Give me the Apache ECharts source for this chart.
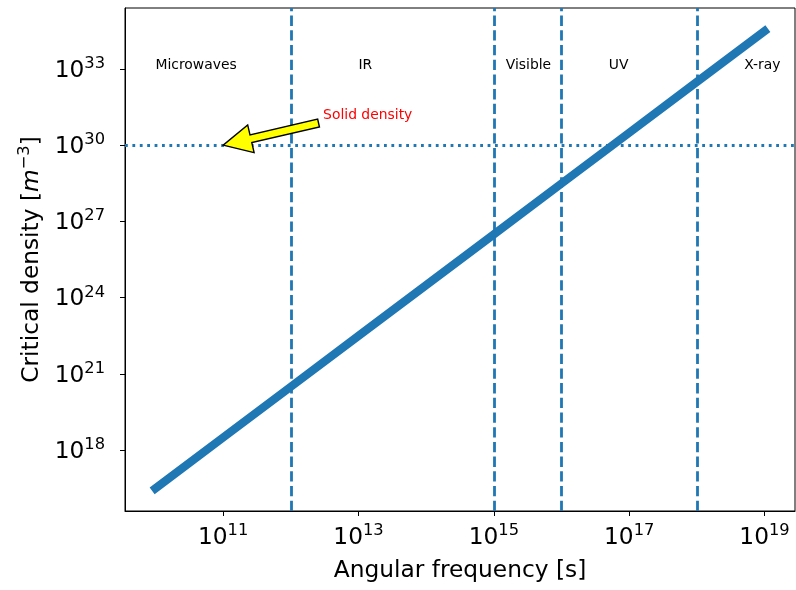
<!DOCTYPE html>
<html>
<head>
<meta charset="utf-8">
<script src="https://cdn.jsdelivr.net/npm/echarts@6/dist/echarts.min.js"></script>
<style>
html,body{margin:0;padding:0;background:#fff;}
#chart{width:796px;height:590px;}
</style>
</head>
<body>
<div id="chart"></div>
<script>
// ---- data ----
const frequencies = [1e10, 1e11, 1e12, 1e13, 1e14, 1e15, 1e16, 1e17, 1e18, 1e19];
const criticalDensity = [3.1e16, 3.1e18, 3.1e20, 3.1e22, 3.1e24, 3.1e26, 3.1e28, 3.1e30, 3.1e32, 3.1e34];
const bandEdges = [1e12, 1e15, 1e16, 1e18];
const solidDensity = 1e30;
const bandNames = ['Microwaves', 'IR', 'Visible', 'UV', 'X-ray'];
const bandLabelX = [1e10, 1e13, 1.5e15, 5e16, 5e18];
const bandLabelY = 1e33;
const xTicks = [1e11, 1e13, 1e15, 1e17, 1e19];
const yTicks = [1e18, 1e21, 1e24, 1e27, 1e30, 1e33];
const annotationText = 'Solid density';
const annotationPoint = [1e11, 1e30];
const annotationTextPos = [3e12, 1e31];
const arrowTail = [Math.pow(10, 12.41), Math.pow(10, 30.87)];

const FONT = 'DejaVu Sans';
const BLUE = '#1f77b4';
const BIG = 23.3;
const SUP = 16.3;

function expLabel(v) {
  const e = Math.round(Math.log10(v));
  return '{b|10}{s|' + e + '}';
}
const tickRich = {
  b: { fontSize: BIG, fontFamily: FONT, color: '#000', verticalAlign: 'bottom' },
  s: { fontSize: SUP, fontFamily: FONT, color: '#000', verticalAlign: 'bottom', padding: [0, 0, 10.5, 0] }
};

const chart = echarts.init(document.getElementById('chart'), null, { renderer: 'canvas' });

const option = {
  animation: false,
  backgroundColor: '#fff',
  grid: { left: 125, top: 8, width: 670, height: 503, show: true, borderColor: '#000', borderWidth: 1, backgroundColor: 'transparent' },
  xAxis: {
    type: 'log', logBase: 10,
    min: Math.pow(10, 9.55), max: Math.pow(10, 19.45),
    name: 'Angular frequency [s]',
    nameLocation: 'middle', nameGap: 48,
    nameTextStyle: { fontSize: BIG, fontFamily: FONT, color: '#000' },
    axisLine: { show: true, onZero: false, lineStyle: { color: '#000', width: 1 } },
    axisTick: { show: true, length: 5, lineStyle: { color: '#000', width: 1 }, customValues: xTicks },
    axisLabel: { show: true, margin: 12, customValues: xTicks, formatter: expLabel, rich: tickRich },
    splitLine: { show: false },
    minorTick: { show: false }
  },
  yAxis: {
    type: 'log', logBase: 10,
    min: Math.pow(10, 15.6), max: Math.pow(10, 35.4),
    name: '{n|Critical density [}{i|m}{s|−3}{n|]}',
    nameLocation: 'middle', nameGap: 81, nameRotate: 90,
    nameTextStyle: {
      fontSize: BIG, fontFamily: FONT, color: '#000', padding: [0, 0, 0, 0],
      rich: {
        n: { fontSize: BIG, fontFamily: FONT, color: '#000', verticalAlign: 'bottom' },
        i: { fontSize: BIG, fontFamily: FONT, fontStyle: 'italic', color: '#000', verticalAlign: 'bottom' },
        s: { fontSize: SUP, fontFamily: FONT, color: '#000', verticalAlign: 'bottom', padding: [0, 0, 10.5, 0] }
      }
    },
    axisLine: { show: true, onZero: false, lineStyle: { color: '#000', width: 1 } },
    axisTick: { show: true, length: 5, lineStyle: { color: '#000', width: 1 }, customValues: yTicks },
    axisLabel: { show: true, margin: 20, customValues: yTicks, formatter: expLabel, rich: tickRich },
    splitLine: { show: false },
    minorTick: { show: false }
  },
  series: [
    {
      type: 'line',
      data: frequencies.map((f, i) => [f, criticalDensity[i]]),
      showSymbol: false,
      symbol: 'none',
      lineStyle: { color: BLUE, width: 8.3, cap: 'square' },
      silent: true,
      z: 3,
      markLine: {
        silent: true,
        symbol: ['none', 'none'],
        label: { show: false },
        animation: false,
        data: bandEdges.map(v => ({ xAxis: v, lineStyle: { color: BLUE, width: 2.8, type: [10.3, 4.4] } }))
          .concat([{ yAxis: solidDensity, lineStyle: { color: BLUE, width: 2.8, type: [2.8, 4.6] } }])
      }
    },
    {
      type: 'scatter',
      symbolSize: 0,
      silent: true,
      itemStyle: { opacity: 1 },
      data: bandNames.map((n, i) => ({ value: [bandLabelX[i], bandLabelY], name: n })),
      label: {
        show: true, position: 'inside', formatter: p => p.name,
        align: 'left', verticalAlign: 'bottom', offset: [0, 3],
        fontSize: 13.9, fontFamily: FONT, color: '#000', opacity: 1
      },
      z: 5
    },
    {
      type: 'scatter',
      symbolSize: 0,
      silent: true,
      itemStyle: { opacity: 1 },
      data: [{ value: annotationTextPos, name: annotationText }],
      label: {
        show: true, position: 'inside', formatter: p => p.name,
        align: 'left', verticalAlign: 'bottom', offset: [0, 3],
        fontSize: 13.9, fontFamily: FONT, color: '#ff0000', opacity: 1
      },
      z: 6
    },
    {
      type: 'custom',
      silent: true,
      z: 6,
      data: [[annotationPoint[0], annotationPoint[1], arrowTail[0], arrowTail[1]]],
      renderItem: function (params, api) {
        const tip = api.coord([api.value(0), api.value(1)]);
        const tail = api.coord([api.value(2), api.value(3)]);
        const dx = tail[0] - tip[0], dy = tail[1] - tip[1];
        const L = Math.sqrt(dx * dx + dy * dy);
        const ux = dx / L, uy = dy / L;
        const nx = -uy, ny = ux;
        const hl = 28.5, hw = 14.2, sw = 4;
        const bx = tip[0] + ux * hl, by = tip[1] + uy * hl;
        const pts = [
          tip,
          [bx + nx * hw, by + ny * hw],
          [bx + nx * sw, by + ny * sw],
          [tail[0] + nx * sw, tail[1] + ny * sw],
          [tail[0] - nx * sw, tail[1] - ny * sw],
          [bx - nx * sw, by - ny * sw],
          [bx - nx * hw, by - ny * hw]
        ];
        return {
          type: 'polygon',
          shape: { points: pts },
          style: { fill: '#ffff00', stroke: '#000', lineWidth: 1.4, lineJoin: 'miter' }
        };
      }
    }
  ]
};
chart.setOption(option);
</script>
</body>
</html>
